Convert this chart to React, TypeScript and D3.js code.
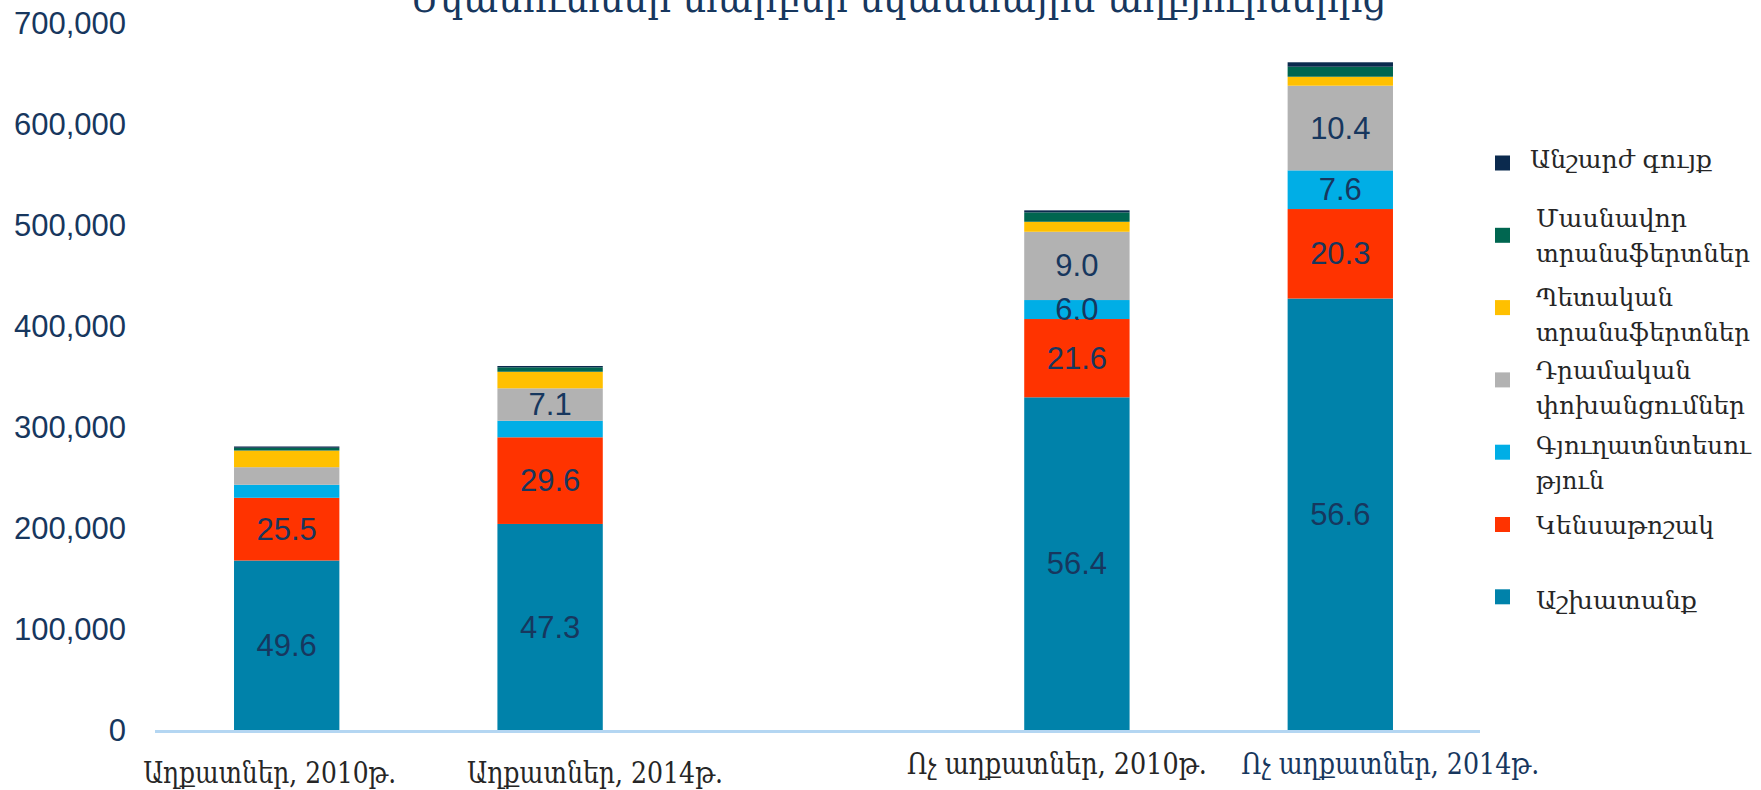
import React from 'react';
import * as d3 from 'd3';

// categories (the empty one is the gap between the two groups)
const categories = ['Աղքատներ, 2010թ.', 'Աղքատներ, 2014թ.', '', 'Ոչ աղքատներ, 2010թ.', 'Ոչ աղքատներ, 2014թ.'];

// series values, drams
const wages = [168300, 204500, 0, 329900, 427700];
const pension = [62100, 85800, 0, 77500, 88600];
const agriculture = [12900, 16400, 0, 18800, 38300];
const remittances = [17400, 32100, 0, 67600, 83800];
const stateTransfers = [16500, 16400, 0, 9900, 8900];
const privateTransfers = [2700, 4400, 0, 9300, 9900];
const property = [1300, 1300, 0, 2000, 4400];

// percent labels printed inside the bars
const wagesPct = [49.6, 47.3, null, 56.4, 56.6];
const pensionPct = [25.5, 29.6, null, 21.6, 20.3];
const agriculturePct = [null, null, null, 6.0, 7.6];
const remittancesPct = [null, 7.1, null, 9.0, 10.4];

const yTicks = [0, 100000, 200000, 300000, 400000, 500000, 600000, 700000];

const series = [
  { key: 'wages', name: ['Աշխատանք'], values: wages, pct: wagesPct, color: '#0082AA' },
  { key: 'pension', name: ['Կենսաթոշակ'], values: pension, pct: pensionPct, color: '#FF3300' },
  { key: 'agriculture', name: ['Գյուղատնտեսու', 'թյուն'], values: agriculture, pct: agriculturePct, color: '#00AEE6' },
  { key: 'remittances', name: ['Դրամական', 'փոխանցումներ'], values: remittances, pct: remittancesPct, color: '#B2B2B2' },
  { key: 'state', name: ['Պետական', 'տրանսֆերտներ'], values: stateTransfers, pct: null, color: '#FFC000' },
  { key: 'private', name: ['Մասնավոր', 'տրանսֆերտներ'], values: privateTransfers, pct: null, color: '#006650' },
  { key: 'property', name: ['Անշարժ գույք'], values: property, pct: null, color: '#0B2A4E' },
];

const title = 'Եկամուտներ տարբեր եկամտային աղբյուրներից';

const W = 1761;
const H = 790;
const navy = '#17375E';
const armenian = '"DejaVu Serif", serif';
const sans = '"Liberation Sans", Arial, sans-serif';

// manual text-box shifts of the category labels
const labelShift = [-17, 45, 0, -20, 50];
const labelY = [783, 783, 0, 774, 774];
const labelWidth = [253, 256, 0, 300, 298];

// legend layout, top to bottom (property first)
const legendTextY = [159, 218, 297, 370, 445, 525, 600];
const legendLineW = [[182], [151, 214], [137, 214], [155, 209], [215, 68], [178], [161]];

export default function App() {
  const x = d3.scaleBand<string>().domain(categories).range([155, 1472]).paddingInner(0.6).paddingOuter(0.3);
  const y = d3.scaleLinear().domain([0, 700000]).range([730.5, 23.5]);

  const table = categories.map((c, i) => {
    const row: Record<string, any> = { cat: c };
    series.forEach(s => { row[s.key] = s.values[i]; });
    return row;
  });
  const stacked = d3.stack().keys(series.map(s => s.key))(table as any);
  const fmt = d3.format(',');

  return (
    <div style={{ position: 'absolute', left: 0, top: 0 }}>
      <svg width={W} height={H} style={{ display: 'block', background: '#fff' }}>
        {/* title sits partly above the top edge, as in the source */}
        <text x={898} y={12} textAnchor="middle" fontFamily={armenian} fontSize={40} fill={navy}
          textLength={977} lengthAdjust="spacingAndGlyphs">{title}</text>

        {yTicks.map(t => (
          <text key={t} x={126} y={y(t)} textAnchor="end" dominantBaseline="central"
            fontFamily={sans} fontSize={31} fill={navy}>{fmt(t)}</text>
        ))}

        {stacked.map((layer, si) => (
          <g key={layer.key} fill={series[si].color}>
            {layer.map((d, i) => categories[i] === '' ? null : (
              <rect key={i} x={x(categories[i])} width={x.bandwidth()}
                y={y(d[1])} height={Math.max(0, y(d[0]) - y(d[1]))} />
            ))}
          </g>
        ))}

        {stacked.map((layer, si) => series[si].pct ? (
          <g key={'l' + layer.key}>
            {layer.map((d, i) => series[si].pct![i] == null ? null : (
              <text key={i} x={(x(categories[i]) as number) + x.bandwidth() / 2} y={(y(d[0]) + y(d[1])) / 2}
                textAnchor="middle" dominantBaseline="central" fontFamily={sans} fontSize={31} fill={navy}>
                {(series[si].pct![i] as number).toFixed(1)}
              </text>
            ))}
          </g>
        ) : null)}

        <line x1={155} x2={1480} y1={731.5} y2={731.5} stroke="#B4D6F2" strokeWidth={3} />

        {categories.map((c, i) => c === '' ? null : (
          <text key={c} x={(x(c) as number) + x.bandwidth() / 2 + labelShift[i]} y={labelY[i]}
            textAnchor="middle" fontFamily={armenian} fontSize={29}
            fill={i === 4 ? navy : '#262626'} textLength={labelWidth[i]} lengthAdjust="spacingAndGlyphs">{c}</text>
        ))}

        {series.slice().reverse().map((s, i) => {
          const cy = 163 + i * 72.3;
          return (
            <g key={'lg' + s.key}>
              <rect x={1495} y={cy - 7.5} width={15} height={15} fill={s.color} />
              {s.name.map((line, li) => (
                <text key={li} x={i === 0 ? 1530 : 1536} y={legendTextY[i] + li * 35}
                  dominantBaseline="central" fontFamily={armenian} fontSize={25} fill="#262626"
                  textLength={legendLineW[i][li]} lengthAdjust="spacingAndGlyphs">{line}</text>
              ))}
            </g>
          );
        })}
      </svg>
    </div>
  );
}
